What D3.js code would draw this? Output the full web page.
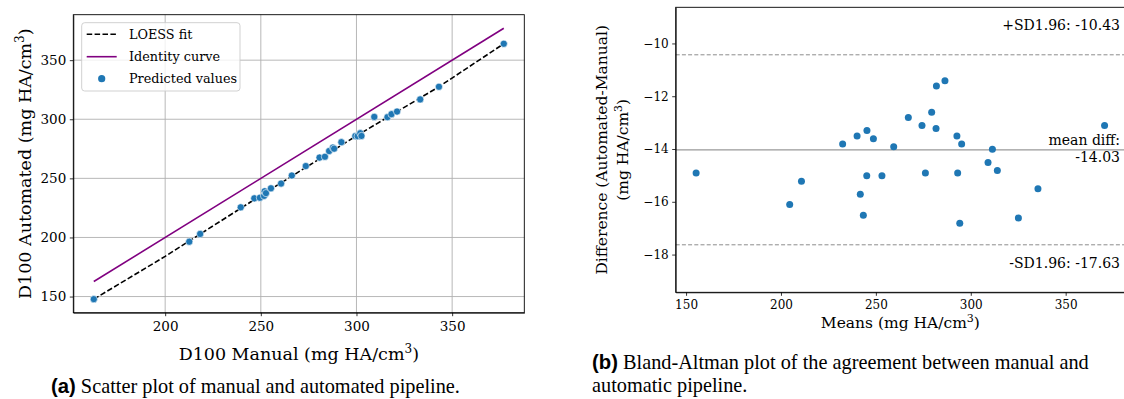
<!DOCTYPE html>
<html lang=en>
<head>
<meta charset="utf-8">
<style>
  body { margin: 0; background: #fff; }
  svg { display: block; }
  .serif { font-family: 'DejaVu Serif', serif; fill: #000; }
  .cap { font-family: 'Liberation Serif', 'Times New Roman', serif; font-size: 20.3px; fill: #000; }
  .cap .lbl { font-family: 'Liberation Sans', Arial, sans-serif; font-weight: bold; }
  .axis path, .axis line { stroke: #000; stroke-width: 0.8; }
  .axis text { font-family: 'DejaVu Serif', serif; fill: #000; }
  .grid line { stroke: #b0b0b0; stroke-width: 0.9; }
</style>
</head>
<body>
<div id="fig"></div>
<script src="https://d3js.org/d3.v7.min.js"></script>
<script>
// (a) scatter: manual vs automated D100
var manual    = [162.7, 212.6, 218.3, 239.5, 246.6, 249.5, 251.7, 252.0, 252.7, 255.3, 260.6, 266.2, 273.5, 280.7, 283.5, 285.7, 287.7, 288.3, 292.1, 299.4, 300.6, 302.0, 302.6, 309.3, 316.2, 318.3, 321.2, 333.3, 343.1, 377.0];
var automated = [147.8, 196.4, 203.0, 225.5, 233.1, 233.6, 235.2, 239.1, 237.5, 241.6, 245.6, 252.4, 260.4, 267.6, 268.3, 273.1, 276.1, 275.1, 280.6, 285.8, 285.7, 288.2, 285.9, 302.0, 301.8, 304.3, 306.5, 316.8, 327.5, 363.9];
var loessX = [162.7, 200, 250, 300, 343, 377.0];
var loessY = [147.8, 184.0, 235.5, 286.0, 327.4, 363.9];

// (b) Bland-Altman: means and differences
var baMeans = [155.3, 204.6, 210.8, 232.5, 240.1, 241.8, 243.4, 245.3, 245.2, 248.7, 253.2, 259.4, 267.1, 274.3, 276.1, 279.4, 281.9, 281.7, 286.4, 292.7, 293.1, 295.2, 294.2, 309.1, 311.4, 314.0, 325.1, 335.4, 370.5];
var baDiffs = [-14.91, -16.10, -15.22, -13.81, -13.51, -15.71, -16.51, -13.30, -15.01, -13.61, -15.01, -13.91, -12.81, -13.11, -14.91, -12.61, -11.61, -13.22, -11.41, -13.51, -14.91, -13.81, -16.81, -14.51, -14.01, -14.81, -16.61, -15.51, -13.11];
var meanDiff = -14.03, upperSD = -10.43, lowerSD = -17.63;

var ticksA = [200, 250, 300, 350];
var ticksAy = [150, 200, 250, 300, 350];
var ticksBx = [150, 200, 250, 300, 350];
var ticksBy = [-18, -16, -14, -12, -10];

var W = 1124, H = 399;
var svg = d3.select("#fig").append("svg").attr("width", W).attr("height", H);
svg.append("rect").attr("width", W).attr("height", H).attr("fill", "#fff");

function pad(ext) { var d = (ext[1] - ext[0]) * 0.05; return [ext[0] - d, ext[1] + d]; }

// ---------- (a) ----------
(function() {
  var L = 73.3, R = 524.3, T = 14.7, B = 312.7;
  var x = d3.scaleLinear().domain(pad(d3.extent(manual))).range([L, R]);
  var y = d3.scaleLinear().domain(pad([d3.min(automated), d3.max(manual)])).range([B, T]);
  var g = svg.append("g");

  g.append("g").attr("class", "grid").selectAll("line").data(ticksA).enter().append("line")
      .attr("x1", x).attr("x2", x).attr("y1", T).attr("y2", B);
  g.append("g").attr("class", "grid").selectAll("line").data(ticksAy).enter().append("line")
      .attr("y1", y).attr("y2", y).attr("x1", L).attr("x2", R);

  // identity curve
  var ext = d3.extent(manual);
  g.append("line").attr("x1", x(ext[0])).attr("y1", y(ext[0])).attr("x2", x(ext[1])).attr("y2", y(ext[1]))
      .attr("stroke", "purple").attr("stroke-width", 1.6);
  // loess fit
  var line = d3.line().x(function(d) { return x(d[0]); }).y(function(d) { return y(d[1]); });
  g.append("path").datum(d3.zip(loessX, loessY)).attr("d", line)
      .attr("fill", "none").attr("stroke", "#000").attr("stroke-width", 1.6).attr("stroke-dasharray", "5.5,2.4");

  g.selectAll("circle").data(d3.zip(manual, automated)).enter().append("circle")
      .attr("cx", function(d) { return x(d[0]); }).attr("cy", function(d) { return y(d[1]); })
      .attr("r", 3.6).attr("fill", "#1f77b4").attr("stroke", "#fff").attr("stroke-width", 0.6);

  var ax = g.append("g").attr("class", "axis").attr("transform", "translate(0," + B + ")")
      .call(d3.axisBottom(x).tickValues(ticksA).tickSize(3.5).tickPadding(5).tickSizeOuter(0));
  ax.selectAll("text").attr("font-size", 13.5);
  var ay = g.append("g").attr("class", "axis").attr("transform", "translate(" + L + ",0)")
      .call(d3.axisLeft(y).tickValues(ticksAy).tickSize(3.5).tickPadding(3.5).tickSizeOuter(0));
  ay.selectAll("text").attr("font-size", 13.5);
  g.append("rect").attr("x", L).attr("y", T).attr("width", R - L).attr("height", B - T)
      .attr("fill", "none").attr("stroke", "#000").attr("stroke-width", 0.9);

  g.append("text").attr("class", "serif").attr("x", (L + R) / 2).attr("y", 360)
      .attr("text-anchor", "middle").attr("font-size", 17.5)
      .html('D100 Manual (mg HA/cm<tspan dy="-7" font-size="12">3</tspan><tspan dy="7">)</tspan>');
  g.append("text").attr("class", "serif").attr("transform", "translate(31," + (T + B) / 2 + ") rotate(-90)")
      .attr("text-anchor", "middle").attr("font-size", 17.5)
      .html('D100 Automated (mg HA/cm<tspan dy="-7" font-size="12">3</tspan><tspan dy="7">)</tspan>');

  // legend
  var lg = g.append("g").attr("transform", "translate(81.7,22.7)");
  lg.append("rect").attr("width", 158.3).attr("height", 68.3).attr("rx", 3)
      .attr("fill", "#fff").attr("fill-opacity", 0.8).attr("stroke", "#cccccc").attr("stroke-width", 0.9);
  lg.append("line").attr("x1", 5).attr("x2", 35).attr("y1", 11.6).attr("y2", 11.6)
      .attr("stroke", "#000").attr("stroke-width", 1.6).attr("stroke-dasharray", "5.5,2.4");
  lg.append("line").attr("x1", 5).attr("x2", 35).attr("y1", 34).attr("y2", 34)
      .attr("stroke", "purple").attr("stroke-width", 1.6);
  lg.append("circle").attr("cx", 20).attr("cy", 56).attr("r", 3.6).attr("fill", "#1f77b4");
  var labels = ["LOESS fit", "Identity curve", "Predicted values"];
  lg.selectAll("text.lt").data(labels).enter().append("text").attr("class", "serif lt")
      .attr("x", 47.3).attr("y", function(d, i) { return 11.6 + i * 22.2; }).attr("dy", "0.35em")
      .attr("font-size", 12.8).text(function(d) { return d; });

  svg.append("text").attr("class", "cap").attr("x", 51).attr("y", 392.5)
      .html('<tspan class="lbl">(a)</tspan> Scatter plot of manual and automated pipeline.');
})();

// ---------- (b) ----------
(function() {
  var L = 675.7, R = 1125, T = 7.3, B = 292.3;
  var x = d3.scaleLinear().domain(pad(d3.extent(baMeans))).range([L, R]);
  var half = (upperSD - meanDiff) * 1.5;
  var y = d3.scaleLinear().domain([meanDiff - half, meanDiff + half]).range([B, T]);
  var g = svg.append("g");

  g.append("line").attr("x1", L).attr("x2", R).attr("y1", y(meanDiff)).attr("y2", y(meanDiff))
      .attr("stroke", "#999").attr("stroke-width", 1.2);
  g.selectAll("line.sd").data([upperSD, lowerSD]).enter().append("line").attr("class", "sd")
      .attr("x1", L).attr("x2", R).attr("y1", y).attr("y2", y)
      .attr("stroke", "#8c8c8c").attr("stroke-width", 1).attr("stroke-dasharray", "4,2.2");

  g.selectAll("circle").data(d3.zip(baMeans, baDiffs)).enter().append("circle")
      .attr("cx", function(d) { return x(d[0]); }).attr("cy", function(d) { return y(d[1]); })
      .attr("r", 3.5).attr("fill", "#1f77b4");

  var ax = g.append("g").attr("class", "axis").attr("transform", "translate(0," + B + ")")
      .call(d3.axisBottom(x).tickValues(ticksBx).tickSize(3.5).tickPadding(5).tickSizeOuter(0));
  ax.selectAll("text").attr("font-size", 12);
  var ay = g.append("g").attr("class", "axis").attr("transform", "translate(" + L + ",0)")
      .call(d3.axisLeft(y).tickValues(ticksBy).tickSize(3.5).tickPadding(3.5).tickSizeOuter(0)
        .tickFormat(function(d) { return "\u2212" + Math.abs(d); }));
  ay.selectAll("text").attr("font-size", 12);
  g.append("rect").attr("x", L).attr("y", T).attr("width", R - L).attr("height", B - T)
      .attr("fill", "none").attr("stroke", "#000").attr("stroke-width", 0.9);

  var ann = [
    { t: "+SD1.96: " + upperSD.toFixed(2), y: 25 },
    { t: "mean diff:", y: 140 },
    { t: meanDiff.toFixed(2), y: 157.5 },
    { t: "-SD1.96: " + lowerSD.toFixed(2), y: 263 }
  ];
  g.selectAll("text.ann").data(ann).enter().append("text").attr("class", "serif ann")
      .attr("x", 1120).attr("y", function(d) { return d.y; }).attr("dy", "0.35em")
      .attr("text-anchor", "end").attr("font-size", 14).text(function(d) { return d.t; });

  g.append("text").attr("class", "serif").attr("x", (L + R) / 2).attr("y", 328)
      .attr("text-anchor", "middle").attr("font-size", 15.5)
      .html('Means (mg HA/cm<tspan dy="-6" font-size="11">3</tspan><tspan dy="6">)</tspan>');
  var yl = g.append("text").attr("class", "serif").attr("transform", "translate(607," + (T + B) / 2 + ") rotate(-90)")
      .attr("text-anchor", "middle").attr("font-size", 15.5);
  yl.append("tspan").attr("x", 0).attr("y", 0).text("Difference (Automated-Manual)");
  yl.append("tspan").attr("x", 0).attr("y", 20.5)
      .html('(mg HA/cm<tspan dy="-6" font-size="11">3</tspan><tspan dy="6">)</tspan>');

  var cap = svg.append("text").attr("class", "cap");
  cap.append("tspan").attr("x", 592).attr("y", 369)
      .html('<tspan class="lbl">(b)</tspan> Bland-Altman plot of the agreement between manual and');
  cap.append("tspan").attr("x", 592).attr("y", 392).text("automatic pipeline.");
})();
</script>
</body>
</html>
